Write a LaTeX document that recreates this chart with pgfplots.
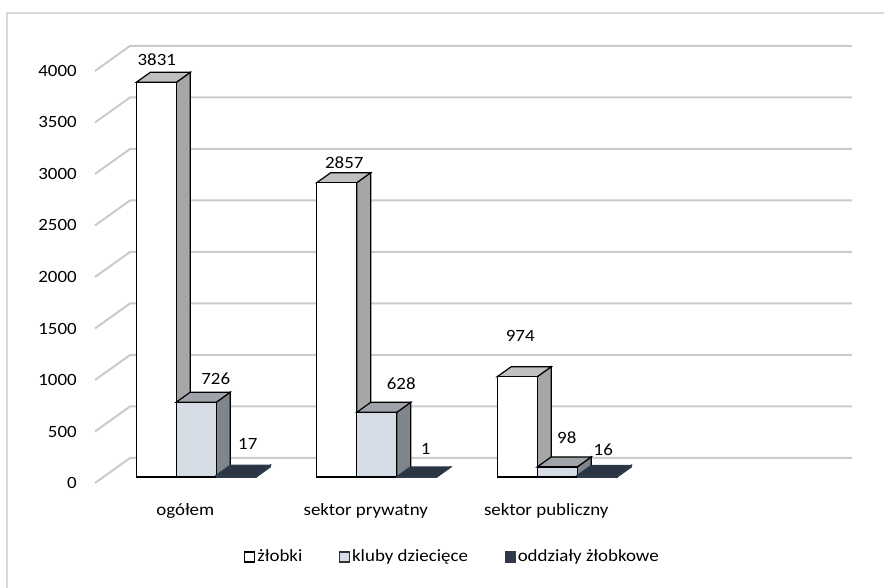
\documentclass[border=0pt]{standalone}
\usepackage{fontspec}
\setmainfont{Carlito}[FakeStretch=1.1]
\usepackage{pgfplots}
\pgfplotsset{compat=1.18}
\usepackage{pgfplotstable}

\definecolor{frontA}{HTML}{FFFFFF}
\definecolor{topA}{HTML}{C0C0C0}
\definecolor{sideA}{HTML}{A6A6A6}
\definecolor{frontB}{HTML}{D6DCE5}
\definecolor{topB}{HTML}{A0A4AA}
\definecolor{sideB}{HTML}{80858C}
\definecolor{frontC}{HTML}{2E3A4A}
\definecolor{topC}{HTML}{2A3544}
\definecolor{sideC}{HTML}{222B37}
\definecolor{gridc}{HTML}{CBCBCB}
\definecolor{framec}{HTML}{D9D9D9}

\pgfplotstableread{
x y lx ly
0.5 3831 0.5 22.4
1.5 2857 7.5 20.3
2.5 974 3 40.7
}\tZ
\pgfplotstableread{
x y lx ly
0.5 726 19.5 23.7
1.5 628 24.5 28.8
2.5 98 9.5 28.9
}\tK
\pgfplotstableread{
x y lx ly
0.5 17 11.5 31.3
1.5 1 9 28.4
2.5 16 6 25.9
}\tO

\pgfkeys{/bar3d/.cd, off/.initial=0, front/.initial=white, top/.initial=gray, side/.initial=gray, edge/.initial=black}

% 3D bar drawn at the data point (front-top centre), height from the data value
\pgfdeclareplotmark{bar3d}{%
  \pgfmathsetmacro{\bBh}{\barval*0.07725}%
  \pgfmathsetmacro{\bCx}{(\pgfkeysvalueof{/bar3d/off}+11)*0.75}%
  \pgfmathsetmacro{\bXl}{\bCx-15}%
  \pgfmathsetmacro{\bXr}{\bCx+15}%
  \pgfmathsetmacro{\bTy}{4.5}%
  \pgfmathsetmacro{\bBy}{4.5-\bBh}%
  \pgfsetlinewidth{0.9pt}\pgfsetmiterjoin
  \pgfsetstrokecolor{\pgfkeysvalueof{/bar3d/edge}}%
  \pgfsetfillcolor{\pgfkeysvalueof{/bar3d/side}}%
  \pgfpathmoveto{\pgfpoint{\bXr pt}{\bTy pt}}%
  \pgfpathlineto{\pgfpoint{\bXr pt+10.5pt}{\bTy pt+7.5pt}}%
  \pgfpathlineto{\pgfpoint{\bXr pt+10.5pt}{\bBy pt+7.5pt}}%
  \pgfpathlineto{\pgfpoint{\bXr pt}{\bBy pt}}%
  \pgfpathclose\pgfusepath{fill,stroke}%
  \pgfsetfillcolor{\pgfkeysvalueof{/bar3d/top}}%
  \pgfpathmoveto{\pgfpoint{\bXl pt}{\bTy pt}}%
  \pgfpathlineto{\pgfpoint{\bXl pt+10.5pt}{\bTy pt+7.5pt}}%
  \pgfpathlineto{\pgfpoint{\bXr pt+10.5pt}{\bTy pt+7.5pt}}%
  \pgfpathlineto{\pgfpoint{\bXr pt}{\bTy pt}}%
  \pgfpathclose\pgfusepath{fill,stroke}%
  \pgfsetfillcolor{\pgfkeysvalueof{/bar3d/front}}%
  \pgfpathrectanglecorners{\pgfpoint{\bXl pt}{\bBy pt}}{\pgfpoint{\bXr pt}{\bTy pt}}%
  \pgfusepath{fill,stroke}%
}

\pgfplotsset{
  bar3dplot/.style n args={5}{
    scatter, only marks, mark=bar3d, point meta=rawy,
    scatter/@pre marker code/.code={\pgfscope},
    scatter/@post marker code/.code={\endpgfscope},
    /bar3d/off=#1, /bar3d/front=#2, /bar3d/top=#3, /bar3d/side=#4, /bar3d/edge=#5,
    visualization depends on={rawy \as \barval},
    visualization depends on={\thisrow{lx} \as \lxv},
    visualization depends on={\thisrow{ly} \as \lyv},
    nodes near coords,
    every node near coord/.append style={anchor=center, text=black, inner sep=0pt,
      xshift={(\lxv+11+#1)*0.75pt}, yshift={(\lyv+6)*0.75pt}},
  }
}

\begin{document}
\begin{tikzpicture}[font=\fontsize{12.9}{15}\selectfont]
\useasboundingbox (0,0) rectangle (663pt,441pt);
\draw[framec, line width=1.5pt] (5.6pt,-20pt) rectangle (700pt,431.6pt);
\begin{axis}[
  at={(71.25pt,78.75pt)}, anchor=south west,
  x=135.375pt, y=0.07725pt,
  xmin=0, xmax=4, ymin=0, ymax=4000,
  clip=false,
  axis line style={draw=none},
  tick style={draw=none},
  xtick={0.5,1.5,2.5},
  xticklabels={ogółem, sektor prywatny, sektor publiczny},
  xticklabel style={anchor=base, yshift=-24pt},
  ytick={0,500,...,4000},
  yticklabel style={anchor=east, inner sep=0pt, xshift=-13.5pt},
  scaled y ticks=false,
  /pgf/number format/1000 sep={},
  /pgf/number format/assume math mode=true,
  legend columns=3,
  legend cell align=left,
  legend style={at={(0.4952,-0.1796)}, anchor=center, draw=none, fill=none,
    nodes={inner xsep=1.5pt, inner ysep=1pt},
    /tikz/every even column/.append style={column sep=26pt}},
]
\pgfplotsinvokeforeach{0,500,...,4000}{
  \draw[gridc, line width=1.5pt] (axis cs:0,#1) -- ++(26.25pt,18.75pt) -- ([xshift=26.25pt,yshift=18.75pt]axis cs:4,#1);
}
\addplot[bar3dplot={-40}{frontA}{topA}{sideA}{black},
  legend image code/.code={\draw[black, line width=0.8pt, fill=frontA] (0pt,-3.75pt) rectangle (7.5pt,3.75pt);}]
  table[x=x, y=y] {\tZ};
\addlegendentry{żłobki}
\addplot[bar3dplot={0}{frontB}{topB}{sideB}{black},
  legend image code/.code={\draw[black!80, line width=0.8pt, fill=frontB] (0pt,-3.75pt) rectangle (7.5pt,3.75pt);}]
  table[x=x, y=y] {\tK};
\addlegendentry{kluby dziecięce}
\addplot[bar3dplot={40}{frontC}{topC}{sideC}{frontC},
  legend image code/.code={\draw[frontC, line width=0.8pt, fill=frontC] (0pt,-3.75pt) rectangle (7.5pt,3.75pt);}]
  table[x=x, y=y] {\tO};
\addlegendentry{oddziały żłobkowe}
\end{axis}
\end{tikzpicture}
\end{document}
